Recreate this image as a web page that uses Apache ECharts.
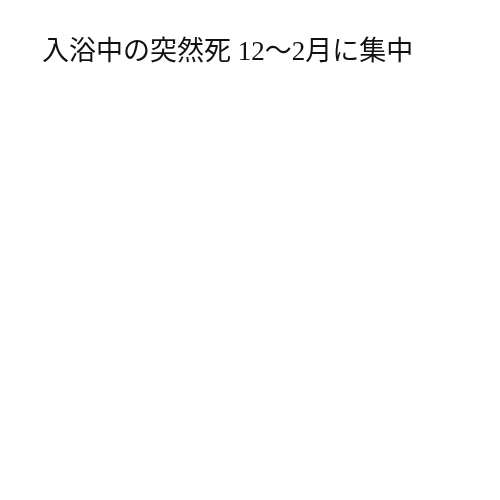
<!DOCTYPE html>
<html>
<head>
<meta charset="utf-8">
<script src="https://cdn.jsdelivr.net/npm/echarts@6/dist/echarts.min.js"></script>
<style>
html, body {margin: 0; padding: 0; background: #fff;}
#main {width: 500px; height: 500px;}
</style>
</head>
<body>
<div id="main"></div>
<script>
// タイトルのみ(グラフ本体は空)
var titleText = '入浴中の突然死 12～2月に集中';
var categories = [];
var values = [];

var option = {
    backgroundColor: '#fff',
    animation: false,
    title: {
        text: titleText,
        left: 37,
        top: 34,
        textStyle: {
            fontSize: 27,
            fontWeight: 'normal',
            color: '#111',
            fontFamily: '"Liberation Serif", "Noto Sans CJK JP", serif'
        }
    },
    xAxis: {type: 'category', data: categories, show: false},
    yAxis: {type: 'value', show: false},
    series: [{type: 'bar', data: values}]
};
var myChart = echarts.init(document.getElementById('main'));
myChart.setOption(option);
</script>
</body>
</html>
